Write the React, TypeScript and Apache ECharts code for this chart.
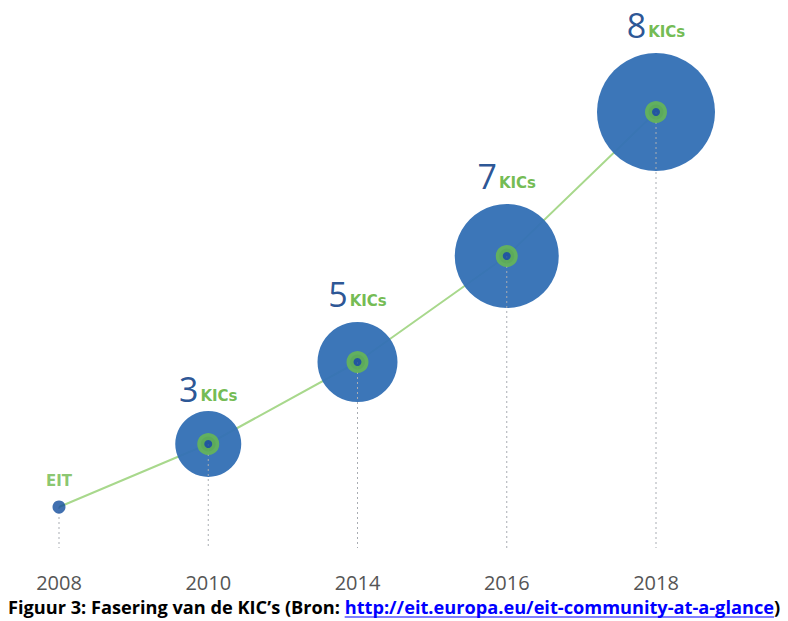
import React, { useEffect, useRef } from "react";
import * as echarts from "echarts";

const years = ["2008", "2010", "2014", "2016", "2018"];
const heights = [8.2, 20.8, 37.2, 58.4, 87.2];
const kicCounts = [0, 3, 5, 7, 8];
const bubbleDiameter = [13, 66, 80, 104, 118];
const firstLabel = "EIT";
const unitLabel = "KICs";
const captionMain = "Figuur 3: Fasering van de KIC\u2019s (Bron: ";
const captionLink = "http://eit.europa.eu/eit-community-at-a-glance";
const captionEnd = ")";

const labelGap = [5, 11, 11, 11];

export default function App() {
  const ref = useRef<HTMLDivElement>(null);
  useEffect(() => {
    if (!ref.current) return;
    const chart = echarts.init(ref.current, undefined, { renderer: "svg" });

    const canvas = document.createElement("canvas");
    const ctx = canvas.getContext("2d")!;
    const fam = '"Open Sans", sans-serif';
    const fam2 = '"DejaVu Sans", sans-serif';
    const meas = (t: string, fs: number) => {
      ctx.font = `bold ${fs}px ${fam}`;
      return ctx.measureText(t).width;
    };
    const full = captionMain + captionLink + captionEnd;
    const fs = (16 * 773) / meas(full, 16);
    const w1 = meas(captionMain, fs);
    const w2 = meas(captionLink, fs);
    const cx = 8;
    const cy = 607;

    const bubbleData = years.slice(1).map((y, i) => ({
      value: [y, heights[i + 1], bubbleDiameter[i + 1], kicCounts[i + 1]],
      label: { distance: labelGap[i] },
    }));
    const allData = years.map((y, i) => [y, heights[i]]);

    chart.setOption({
      animation: false,
      grid: { left: 59, right: 132, top: 48, bottom: 73 },
      xAxis: {
        type: "category",
        data: years,
        boundaryGap: false,
        axisLine: { show: false },
        axisTick: { show: false },
        splitLine: { show: false },
        axisLabel: { color: "#555", fontSize: 20, fontFamily: fam, margin: 24 },
      },
      yAxis: { type: "value", min: 0, max: 100, show: false },
      series: [
        {
          type: "line",
          data: allData,
          symbol: "none",
          lineStyle: { color: "#a8d88c", width: 2 },
          z: 1,
        },
        {
          type: "scatter",
          data: bubbleData,
          symbolSize: (v: any) => v[2],
          itemStyle: { color: "#3470b5", opacity: 0.96 },
          z: 2,
          label: {
            show: true,
            position: "top",
            formatter: (p: any) => `{n|${p.value[3]}}{k|${unitLabel}}`,
            rich: {
              n: { fontSize: 34, fontFamily: fam, fontWeight: "normal", color: "#1f4d90", lineHeight: 36, verticalAlign: "bottom" },
              k: { fontSize: 15, fontFamily: fam2, fontWeight: "bold", color: "#6cb84a", lineHeight: 36, verticalAlign: "bottom", padding: [0, 0, 3, 2] },
            },
          },
        },
        {
          type: "custom",
          data: allData,
          z: 3,
          renderItem: (params: any, api: any) => {
            const p = api.coord([api.value(0), api.value(1)]);
            const b = api.coord([api.value(0), 0]);
            return {
              type: "line",
              shape: { x1: p[0], y1: p[1], x2: b[0], y2: b[1] },
              style: { stroke: "#a9adb3", lineWidth: 1, lineDash: [2, 3] },
            };
          },
        },
        {
          type: "scatter",
          data: bubbleData.map((d) => [d.value[0], d.value[1]]),
          symbolSize: 15,
          itemStyle: { color: "#1b4f9a", borderColor: "#6cbf4a", borderWidth: 7 },
          z: 4,
        },
        {
          type: "scatter",
          data: [allData[0]],
          symbolSize: bubbleDiameter[0],
          itemStyle: { color: "#124c9c" },
          z: 4,
          label: {
            show: true,
            position: "top",
            distance: 12,
            formatter: firstLabel,
            fontSize: 15,
            fontWeight: "bold",
            fontFamily: fam2,
            color: "#6cb84a",
          },
        },
      ],
      graphic: [
        {
          type: "text",
          x: cx,
          y: cy,
          style: { text: captionMain, font: `bold ${fs}px ${fam}`, fill: "#000", verticalAlign: "middle" },
        },
        {
          type: "text",
          x: cx + w1,
          y: cy,
          style: { text: captionLink, font: `bold ${fs}px ${fam}`, fill: "#0000ff", verticalAlign: "middle" },
        },
        {
          type: "line",
          shape: { x1: cx + w1, y1: cy + fs * 0.55, x2: cx + w1 + w2, y2: cy + fs * 0.55 },
          style: { stroke: "#0000ff", lineWidth: 1.2 },
        },
        {
          type: "text",
          x: cx + w1 + w2,
          y: cy,
          style: { text: captionEnd, font: `bold ${fs}px ${fam}`, fill: "#000", verticalAlign: "middle" },
        },
      ],
    });
    return () => chart.dispose();
  }, []);
  return <div ref={ref} style={{ position: "absolute", left: 0, top: 0, width: 788, height: 621, background: "#fff" }} />;
}
